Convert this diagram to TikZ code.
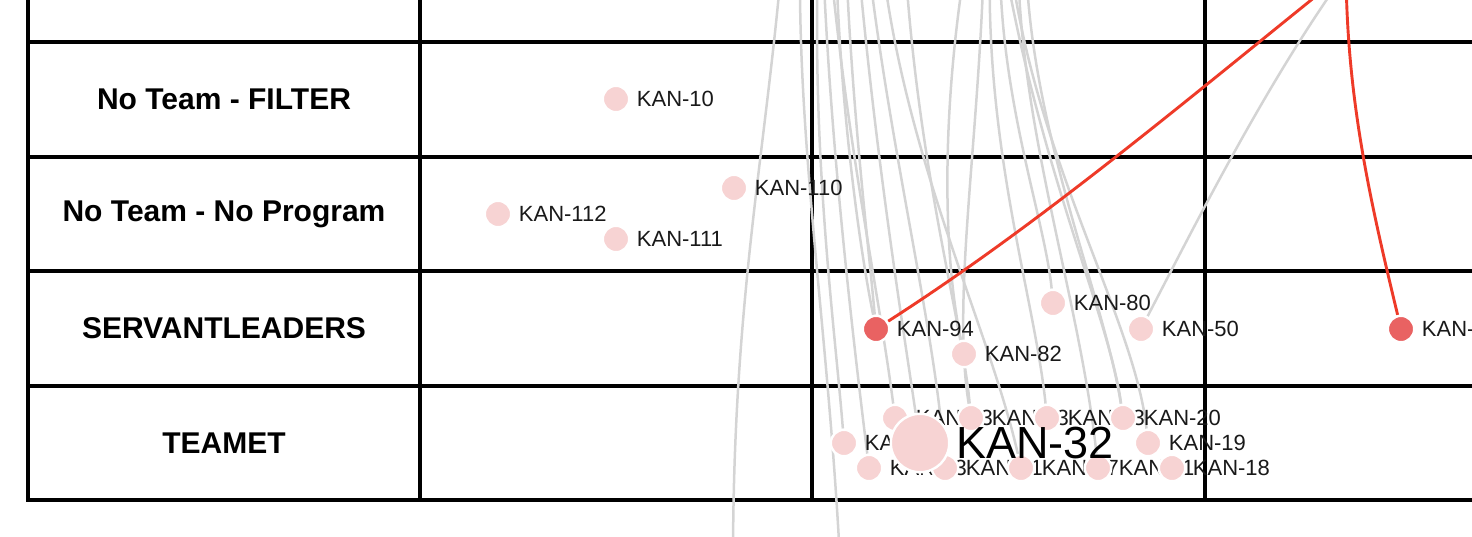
\documentclass[tikz,border=0pt]{standalone}
\usepackage{fontspec}
\setmainfont{Liberation Sans}
\definecolor{edgegrey}{RGB}{212,212,212}
\definecolor{edgered}{RGB}{238,58,40}
\definecolor{nodepink}{RGB}{247,211,211}
\definecolor{nodered}{RGB}{233,98,98}
\pgfdeclarelayer{bg}
\pgfsetlayers{bg,main}
\begin{document}
\begin{tikzpicture}[x=1pt,y=-1pt,
  grid/.style={line width=3.1pt, draw=black, line cap=rect, line join=miter},
  edge/.style={line width=2.5pt, draw=edgegrey},
  redge/.style={line width=2.9pt, draw=edgered},
  pt/.style={circle, fill=nodepink, draw=white, line width=2.4pt, minimum size=26.4pt, inner sep=0pt},
  ptred/.style={pt, fill=nodered},
  ptbig/.style={pt, minimum size=58.4pt},
  lab/.style={anchor=west, inner sep=0pt, text=black!90, font=\fontsize{22}{26}\selectfont},
  biglab/.style={anchor=west, inner sep=0pt, font=\fontsize{45}{52}\selectfont},
  rowlab/.style={inner sep=0pt, font=\fontsize{30}{36}\selectfont\bfseries}]
\useasboundingbox (0,0) rectangle (1472,536);
\clip (0,0) rectangle (1472,536);

% row labels
\node[rowlab] (r1) at (224,99) {No Team - FILTER};
\node[rowlab] (r2) at (224,214) {No Team - No Program};
\node[rowlab] (r3) at (224,328) {SERVANTLEADERS};
\node[rowlab] (r4) at (224,443) {TEAMET};

% nodes (drawn in order)
\node[pt] (k10) at (616,99) {};
\node[lab] (k10l) at ([xshift=6.3pt]k10.east) {KAN-10};
\node[pt] (k110) at (734,188) {};
\node[lab] (k110l) at ([xshift=6.3pt]k110.east) {KAN-110};
\node[pt] (k112) at (498,214) {};
\node[lab] (k112l) at ([xshift=6.3pt]k112.east) {KAN-112};
\node[pt] (k111) at (616,239) {};
\node[lab] (k111l) at ([xshift=6.3pt]k111.east) {KAN-111};
\node[ptred] (k94) at (876,329) {};
\node[lab] (k94l) at ([xshift=6.3pt]k94.east) {KAN-94};
\node[pt] (k80) at (1053,303) {};
\node[lab] (k80l) at ([xshift=6.3pt]k80.east) {KAN-80};
\node[pt] (k50) at (1141,329) {};
\node[lab] (k50l) at ([xshift=6.3pt]k50.east) {KAN-50};
\node[pt] (k82) at (964,354) {};
\node[lab] (k82l) at ([xshift=6.3pt]k82.east) {KAN-82};
\node[ptred] (kr) at (1401,329) {};
\node[lab] (krl) at ([xshift=6.3pt]kr.east) {KAN-};

% TEAMET cluster
\node[pt] (c5) at (844,443) {};
\node[lab] (c5l) at ([xshift=6.3pt]c5.east) {KAN-31};
\node[pt] (c7) at (869,468) {};
\node[lab] (c7l) at ([xshift=6.3pt]c7.east) {KAN-53};
\node[pt] (c1) at (895,418) {};
\node[lab] (c1l) at ([xshift=6.3pt]c1.east) {KAN-23};
\node[pt] (c8) at (945,468) {};
\node[lab] (c8l) at ([xshift=6.3pt]c8.east) {KAN-21};
\node[pt] (c2) at (971,418) {};
\node[lab] (c2l) at ([xshift=6.3pt]c2.east) {KAN-33};
\node[pt] (c9) at (1021,468) {};
\node[lab] (c9l) at ([xshift=6.3pt]c9.east) {KAN-27};
\node[pt] (c3) at (1047,418) {};
\node[lab] (c3l) at ([xshift=6.3pt]c3.east) {KAN-43};
\node[pt] (c10) at (1098,468) {};
\node[lab] (c10l) at ([xshift=6.3pt]c10.east) {KAN-11};
\node[pt] (c4) at (1123,418) {};
\node[lab] (c4l) at ([xshift=6.3pt]c4.east) {KAN-20};
\node[pt] (c6) at (1148,443) {};
\node[lab] (c6l) at ([xshift=6.3pt]c6.east) {KAN-19};
\node[pt] (c11) at (1172,468) {};
\node[lab] (c11l) at ([xshift=6.3pt]c11.east) {KAN-18};
\node[ptbig] (big) at (920,443) {};
\node[biglab] (bigl) at ([xshift=5.4pt]big.east) {KAN-32};

% off-picture ends
\coordinate (src) at (1346,-28);
\coordinate (sA) at (782,-40);  \coordinate (xA) at (733,560);
\coordinate (sB) at (800,-40);  \coordinate (xB) at (840,560);
\coordinate (sC) at (818,-40);
\coordinate (sD) at (823,-40);
\coordinate (sE) at (830,-40);
\coordinate (sF) at (836,-40);
\coordinate (sF2) at (846,-40);
\coordinate (sG) at (858,-40);
\coordinate (sH) at (868,-40);
\coordinate (sK) at (882,-40);
\coordinate (sR) at (905,-40);
\coordinate (sI) at (966,-40);
\coordinate (sJ) at (984,-40);
\coordinate (sL) at (990,-40);
\coordinate (sM) at (1000,-40);
\coordinate (sN) at (1018,-40);
\coordinate (sO) at (1026,-40);
\coordinate (sP) at (1010,-40);
\coordinate (sQ) at (1004,-40);

\begin{pgfonlayer}{bg}
% grid
\draw[grid] (28,-5) -- (28,500) -- (1480,500);
\foreach \yy in {42,157,271,386} \draw[grid] (28,\yy) -- (1480,\yy);
\foreach \xx in {420,812,1205} \draw[grid] (\xx,-5) -- (\xx,500);
% grey edges
\draw[edge] (sA) .. controls (766,150) and (733,300) .. (xA);
\draw[edge] (sB) .. controls (798,150) and (828,330) .. (xB);
\draw[edge] (sC) .. controls (812,160) and (835,330) .. (c5);
\draw[edge] (sD) .. controls (830,140) and (852,330) .. (c7);
\draw[edge] (sE) .. controls (848,150) and (880,300) .. (c1);
\draw[edge] (sF) .. controls (840,100) and (858,240) .. (k94);
\draw[edge] (sF2) .. controls (852,110) and (868,240) .. (k94);
\draw[edge] (sG) .. controls (876,160) and (902,320) .. (big);
\draw[edge] (sH) .. controls (890,150) and (935,330) .. (c8);
\draw[edge] (sK) .. controls (905,160) and (990,330) .. (c9);
\draw[edge] (sR) .. controls (918,170) and (962,320) .. (c2);
\draw[edge] (sI) .. controls (940,120) and (944,260) .. (k82);
\draw[edge] (sJ) .. controls (978,150) and (952,300) .. (c2);
\draw[edge] (sL) .. controls (985,150) and (1035,300) .. (c3);
\draw[edge] (sM) .. controls (1000,100) and (1045,220) .. (k80);
\draw[edge] (sN) .. controls (1020,130) and (1080,300) .. (c10);
\draw[edge] (sO) .. controls (1030,130) and (1105,300) .. (c4);
\draw[edge] (sP) .. controls (1035,160) and (1135,320) .. (c6);
\draw[edge] (sQ) .. controls (1040,170) and (1110,320) .. (c4);
\draw[edge] (src) .. controls (1267,82) and (1198,219) .. (k50);
% red edges
\draw[redge] (src) .. controls (1196,92) and (1046,220) .. (k94);
\draw[redge] (src) .. controls (1347,100) and (1370,200) .. (kr);
\end{pgfonlayer}
\end{tikzpicture}
\end{document}
